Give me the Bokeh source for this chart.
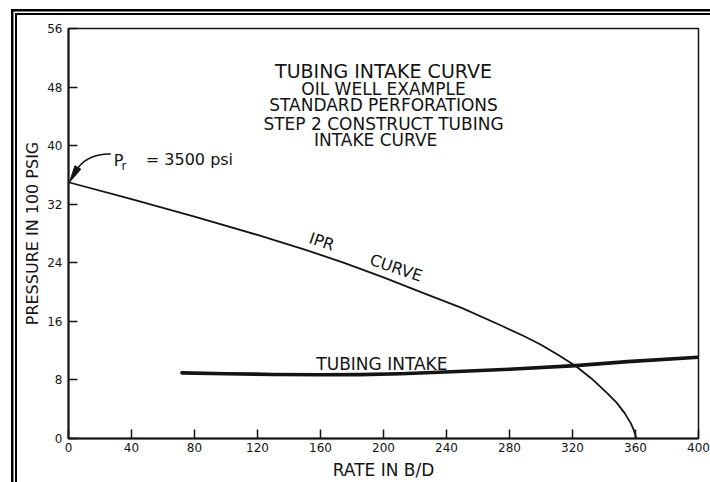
from bokeh.plotting import figure
from bokeh.models import FixedTicker, Label, InlineStyleSheet
from bokeh.embed import file_html
from bokeh.resources import INLINE

# Inflow performance (IPR) curve: rate in B/D, pressure in 100 psig
ipr_rate = [0, 40, 80, 120, 150, 175, 200, 225, 250, 275, 290, 300, 311, 322, 332, 342, 348, 353, 357, 359, 360.5]
ipr_pressure = [35.0, 32.7, 30.3, 27.8, 25.8, 24.0, 22.0, 19.9, 17.8, 15.4, 13.9, 12.8, 11.4, 9.9, 8.2, 6.2, 4.9, 3.5, 2.1, 1.1, 0.0]

# Tubing intake curve
tubing_rate = [72, 100, 130, 160, 185, 211, 243, 280, 322, 355, 400]
tubing_pressure = [8.97, 8.85, 8.75, 8.70, 8.72, 8.85, 9.12, 9.45, 9.96, 10.5, 11.1]

x_ticks = [0, 40, 80, 120, 160, 200, 240, 280, 320, 360, 400]
y_ticks = [0, 8, 16, 24, 32, 40, 48, 56]

reservoir_pressure = 35.0  # 3500 psi

title_lines = [
    "TUBING INTAKE CURVE",
    "OIL WELL EXAMPLE",
    "STANDARD PERFORATIONS",
    "STEP 2 CONSTRUCT TUBING",
    "INTAKE CURVE",
]

FONT = "DejaVu Sans"
INK = "#141414"

X_MAX, Y_MAX = 400, 56
FRAME_W, FRAME_H = 630, 410

# double rule along the top and left edges of the sheet
sheet_css = InlineStyleSheet(css="""
:host::before {
  content: ""; position: absolute; left: 0; top: 0; width: 100%; height: 100%;
  pointer-events: none; z-index: 20;
  background:
    linear-gradient(#000, #000) 11px 9px / 2.5px 100% no-repeat,
    linear-gradient(#000, #000) 15px 13px / 2px 100% no-repeat,
    linear-gradient(#000, #000) 11px 9px / 100% 2.5px no-repeat,
    linear-gradient(#000, #000) 15px 13px / 100% 2px no-repeat;
}
""")

p = figure(
    width=710, height=482,
    x_range=(0, X_MAX), y_range=(0, Y_MAX),
    output_backend="svg", toolbar_location=None,
    min_border_left=68, min_border_right=12,
    min_border_top=28, min_border_bottom=44,
    background_fill_color="white", border_fill_color="white",
)
p.stylesheets = [sheet_css]
p.grid.visible = False
p.outline_line_color = INK
p.outline_line_width = 1.5

for ax, ticks in ((p.xaxis, x_ticks), (p.yaxis, y_ticks)):
    ax.ticker = FixedTicker(ticks=ticks, minor_ticks=[])
    ax.axis_line_color = INK
    ax.axis_line_width = 2
    ax.major_tick_line_color = INK
    ax.major_tick_line_width = 1.5
    ax.major_tick_in = 9
    ax.major_tick_out = 0
    ax.minor_tick_line_color = None
    ax.major_label_text_font = FONT
    ax.major_label_text_font_size = "12px"
    ax.major_label_text_color = INK
    ax.axis_label_text_font = FONT
    ax.axis_label_text_font_style = "normal"
    ax.axis_label_text_color = INK

p.xaxis.axis_label = "RATE IN B/D"
p.xaxis.axis_label_text_font_size = "17px"
p.xaxis.major_label_standoff = 4
p.xaxis.axis_label_standoff = 5
p.yaxis.axis_label = "PRESSURE IN 100 PSIG"
p.yaxis.axis_label_text_font_size = "16px"
p.yaxis.major_label_standoff = 6
p.yaxis.axis_label_standoff = 2

# curves
p.line(ipr_rate, ipr_pressure, line_color=INK, line_width=1.8, line_join="round")
p.line(tubing_rate, tubing_pressure, line_color=INK, line_width=3.6, line_cap="round",
       line_join="round")

# heading block
title_x = [200, 200, 200, 200, 195]
title_y = [50.2, 47.7, 45.6, 43.0, 40.8]
title_size = ["19px", "17px", "17px", "17px", "17px"]
for txt, tx, ty, ts in zip(title_lines, title_x, title_y, title_size):
    p.add_layout(Label(x=tx, y=ty, text=txt, text_font=FONT, text_font_size=ts,
                       text_color=INK, text_align="center", text_baseline="middle"))

# curve labels
p.add_layout(Label(x=160.8, y=26.9, text="IPR", angle=-0.33, text_font=FONT,
                   text_font_size="16px", text_color=INK, text_align="center",
                   text_baseline="middle"))
p.add_layout(Label(x=208, y=23.3, text="CURVE", angle=-0.33, text_font=FONT,
                   text_font_size="16px", text_color=INK, text_align="center",
                   text_baseline="middle"))
p.add_layout(Label(x=199, y=10.2, text="TUBING INTAKE", text_font=FONT,
                   text_font_size="17px", text_color=INK, text_align="center",
                   text_baseline="middle"))

# reservoir pressure callout
p.add_layout(Label(x=28.8, y=38.0, text="P", text_font=FONT, text_font_size="16px",
                   text_color=INK, text_align="left", text_baseline="middle"))
p.add_layout(Label(x=33.6, y=37.2, text="r", text_font=FONT, text_font_size="12px",
                   text_color=INK, text_align="left", text_baseline="middle"))
p.add_layout(Label(x=49.1, y=38.1, text="= 3500 psi", text_font=FONT,
                   text_font_size="16px", text_color=INK, text_align="left",
                   text_baseline="middle"))

# curved leader ending in a slim arrowhead at the reservoir pressure
sx, sy = FRAME_W / X_MAX, FRAME_H / Y_MAX          # pixels per data unit
tip_x, tip_y = 0.6, reservoir_pressure
dir_px = (0.496, 0.868)                             # back along the leader (right, up)
head_len, head_half = 17, 3.4
base_px = (dir_px[0] * head_len, dir_px[1] * head_len)
perp_px = (dir_px[1] * head_half, -dir_px[0] * head_half)
head_xs = [tip_x,
           tip_x + (base_px[0] + perp_px[0]) / sx,
           tip_x + (base_px[0] - perp_px[0]) / sx]
head_ys = [tip_y,
           tip_y + (base_px[1] + perp_px[1]) / sy,
           tip_y + (base_px[1] - perp_px[1]) / sy]
p.quadratic(x0=[26.9], y0=[38.86], x1=[tip_x + base_px[0] / sx * 0.6],
            y1=[tip_y + base_px[1] / sy * 0.6], cx=[10.0], cy=[38.9],
            line_color=INK, line_width=1.6)
p.patch(head_xs, head_ys, fill_color=INK, line_color=INK, line_width=1)

open("out.html", "w").write(file_html(p, INLINE))
